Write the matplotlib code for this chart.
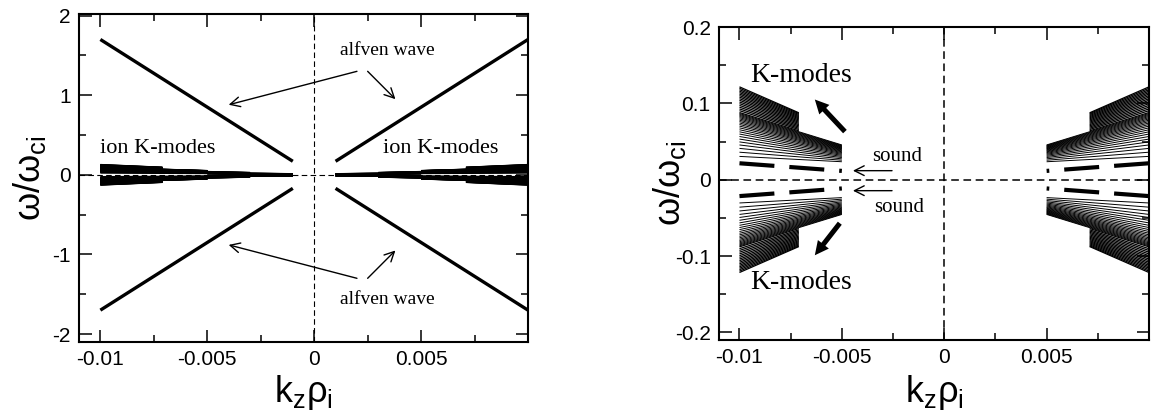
import matplotlib
matplotlib.use("Agg")
import matplotlib.pyplot as plt

plt.rcParams.update({
    "font.family": "Liberation Sans",
    "font.size": 15,
    "axes.unicode_minus": False,
    "mathtext.fontset": "custom",
    "mathtext.rm": "Liberation Sans",
    "mathtext.it": "Liberation Sans",
    "xtick.direction": "in",
    "ytick.direction": "in",
    "xtick.top": True,
    "ytick.right": True,
})

# alfven branch, one quadrant (|k|, omega), mirrored to the other three
alfven_k = [0.001, 0.01]
alfven_w = [0.17, 1.7]

# sound branch
sound_k = [0.005, 0.01]
sound_w = [0.0115, 0.0215]

# ion K-modes, one quadrant: each group spans k0 -> k1, omega at both ends
kmA_k = [0.005, 0.01]
kmA_w0 = [0.0235, 0.0255, 0.0273, 0.0290, 0.0305, 0.0319, 0.0332, 0.0344, 0.0355, 0.0365, 0.0374,
          0.0383, 0.0391, 0.0399, 0.0406, 0.0413, 0.0420, 0.0427, 0.0434, 0.0441, 0.0448, 0.0455]
kmA_w1 = [0.0305, 0.0360, 0.0410, 0.0455, 0.0495, 0.0532, 0.0566, 0.0598, 0.0627, 0.0654, 0.0679,
          0.0702, 0.0723, 0.0743, 0.0762, 0.0780, 0.0797, 0.0813, 0.0828, 0.0842, 0.0855, 0.0867]

kmB_k = [0.0071, 0.01]
kmB_w0 = [0.0640, 0.0657, 0.0673, 0.0689, 0.0705, 0.0721, 0.0737, 0.0752, 0.0767, 0.0782, 0.0797,
          0.0811, 0.0825, 0.0839, 0.0853, 0.0866, 0.0876]
kmB_w1 = [0.0880, 0.0904, 0.0927, 0.0950, 0.0973, 0.0996, 0.1018, 0.1040, 0.1061, 0.1082, 0.1102,
          0.1122, 0.1141, 0.1160, 0.1179, 0.1198, 0.1216]

kmC_k = [0.003, 0.005]
kmC_w0 = [0.0120, 0.0135, 0.0148, 0.0160, 0.0171, 0.0181, 0.0190, 0.0198, 0.0205, 0.0212]
kmC_w1 = [0.0175, 0.0205, 0.0230, 0.0252, 0.0271, 0.0288, 0.0303, 0.0316, 0.0328, 0.0338]

kmD_k = [0.001, 0.003]
kmD_w0 = [0.0035, 0.0040, 0.0045, 0.0050, 0.0054, 0.0058, 0.0062, 0.0066]
kmD_w1 = [0.0070, 0.0079, 0.0087, 0.0094, 0.0100, 0.0106, 0.0111, 0.0116]

xticks = [-0.01, -0.005, 0, 0.005]
xticklabels = ["-0.01", "-0.005", "0", "0.005"]
yticks_left = [-2, -1, 0, 1, 2]
yticks_right = [-0.2, -0.1, 0, 0.1, 0.2]
yticklabels_right = ["-0.2", "-0.1", "0", "0.1", "0.2"]


def mirror(ax, k, w, **kw):
    # draw a branch in all four quadrants, starting from the outer end
    for sk in (-1, 1):
        for sw in (-1, 1):
            ax.plot([sk * k[1], sk * k[0]], [sw * w[1], sw * w[0]], **kw)


def kmodes(ax, k, w0, w1, lw):
    for a, b in zip(w0, w1):
        mirror(ax, k, [a, b], color="k", lw=lw, solid_capstyle="butt")


def style(ax, ylim, yticks, yminor, zlw):
    ax.set_xlim(-0.011, 0.01)
    ax.set_ylim(*ylim)
    ax.set_xticks(xticks)
    ax.set_xticklabels(xticklabels)
    ax.set_xticks([-0.0075, -0.0025, 0.0025, 0.0075, 0.01], minor=True)
    ax.set_yticks(yticks)
    ax.set_yticks(yminor, minor=True)
    ax.tick_params(which="major", length=9, width=1.1, pad=6)
    ax.tick_params(which="minor", length=5, width=1.1)
    for s in ax.spines.values():
        s.set_linewidth(1.5)
    ax.axhline(0, color="k", lw=zlw, ls=(0, (5, 3)), zorder=5)
    ax.axvline(0, color="k", lw=zlw, ls=(0, (5, 3)), zorder=5)


fig = plt.figure(figsize=(11.56, 4.15), dpi=100)
ax1 = fig.add_axes([79 / 1156, 1 - 342 / 415, 449 / 1156, 328 / 415])
ax2 = fig.add_axes([719 / 1156, 1 - 340 / 415, 430 / 1156, 313 / 415])

# left panel
mirror(ax1, alfven_k, alfven_w, color="k", lw=2.4, solid_capstyle="butt")
for k, w0, w1 in [(kmA_k, kmA_w0, kmA_w1), (kmB_k, kmB_w0, kmB_w1),
                  (kmC_k, kmC_w0, kmC_w1), (kmD_k, kmD_w0, kmD_w1)]:
    kmodes(ax1, k, w0, w1, 1.8)
style(ax1, (-2.1, 2.02), yticks_left, [-1.5, -0.5, 0.5, 1.5], 0.8)

serif = "Liberation Serif"
ax1.text(-0.0073, 0.33, "ion K-modes", family=serif, fontsize=16, ha="center", va="center")
ax1.text(0.0059, 0.33, "ion K-modes", family=serif, fontsize=16, ha="center", va="center")
ax1.text(0.0034, 1.56, "alfven wave", family=serif, fontsize=14, ha="center", va="center")
ax1.text(0.0034, -1.56, "alfven wave", family=serif, fontsize=14, ha="center", va="center")
thin = dict(arrowstyle="->,head_length=0.5,head_width=0.25", lw=1.0, color="k",
            shrinkA=0, shrinkB=0, mutation_scale=14)
for sw in (1, -1):
    ax1.annotate("", xy=(-0.0040, sw * 0.88), xytext=(0.0020, sw * 1.3), arrowprops=thin)
    ax1.annotate("", xy=(0.0038, sw * 0.95), xytext=(0.0025, sw * 1.3), arrowprops=thin)

# right panel (zoom on the K-modes and the sound wave)
for k, w0, w1, lw in [(kmA_k, kmA_w0, kmA_w1, 0.7), (kmB_k, kmB_w0, kmB_w1, 0.9)]:
    kmodes(ax2, k, w0, w1, lw)
mirror(ax2, sound_k, sound_w, color="k", lw=3.0, ls=(0, (8.4, 3.6)), dash_capstyle="butt")
style(ax2, (-0.21, 0.2), yticks_right, [-0.15, -0.05, 0.05, 0.15], 1.1)
ax2.set_yticklabels(yticklabels_right)

ax2.text(-0.0070, 0.136, "K-modes", family=serif, fontsize=20, ha="center", va="center")
ax2.text(-0.0070, -0.135, "K-modes", family=serif, fontsize=20, ha="center", va="center")
ax2.text(-0.0023, 0.031, "sound", family=serif, fontsize=15, ha="center", va="center")
ax2.text(-0.0022, -0.037, "sound", family=serif, fontsize=15, ha="center", va="center")
ax2.annotate("", xy=(-0.00446, 0.0118), xytext=(-0.00255, 0.0118), arrowprops=thin)
ax2.annotate("", xy=(-0.00446, -0.0144), xytext=(-0.00255, -0.0144), arrowprops=thin)
fat = dict(arrowstyle="simple,head_length=0.5,head_width=0.5,tail_width=0.18", lw=0,
           fc="k", ec="k", shrinkA=0, shrinkB=0, mutation_scale=20)
ax2.annotate("", xy=(-0.00632, 0.105), xytext=(-0.00485, 0.063), arrowprops=fat)
ax2.annotate("", xy=(-0.00632, -0.099), xytext=(-0.0051, -0.057), arrowprops=fat)

# axis labels
for cx, cy in [(303, 392), (934, 392)]:
    fig.text(cx / 1156, 1 - cy / 415, r"$\mathrm{k_z\rho_i}$", fontsize=26, ha="center", va="center")
for cx, cy in [(30, 178), (670, 183)]:
    fig.text(cx / 1156, 1 - cy / 415, r"$\omega/\omega_{\mathrm{ci}}$", fontsize=26,
             ha="center", va="center", rotation=90)

fig.savefig("out.png", dpi=100)
